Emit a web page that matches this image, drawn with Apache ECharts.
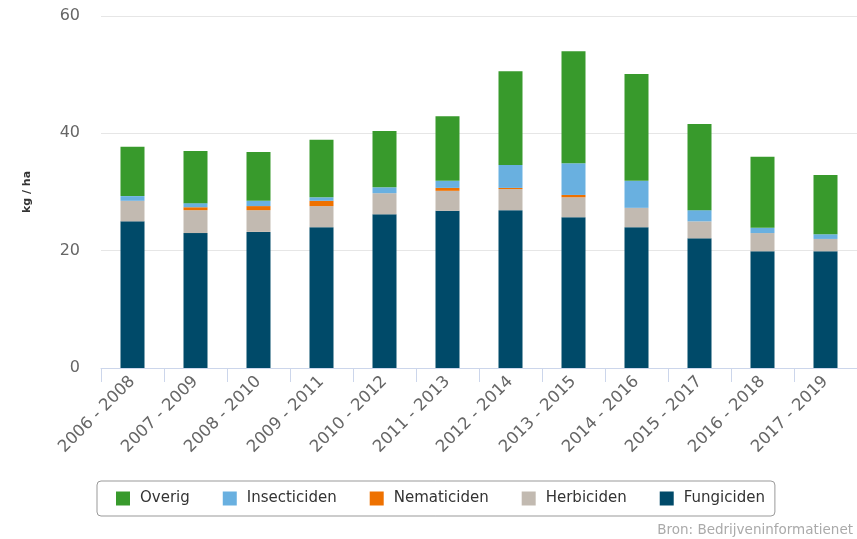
<!DOCTYPE html>
<html>
<head>
<meta charset="utf-8">
<script src="https://cdn.jsdelivr.net/npm/echarts@6/dist/echarts.min.js"></script>
<style>
  html, body { margin: 0; padding: 0; background: #fff; }
  #chart { width: 857px; height: 539px; }
</style>
</head>
<body>
<div id="chart"></div>
<script>
// Categories (3-year averages)
const periods = [
    "2006 - 2008", "2007 - 2009", "2008 - 2010", "2009 - 2011",
    "2010 - 2012", "2011 - 2013", "2012 - 2014", "2013 - 2015",
    "2014 - 2016", "2015 - 2017", "2016 - 2018", "2017 - 2019",
];
// kg active substance per ha
const fungiciden    = [25.0, 23.0, 23.2, 24.0, 26.2, 26.8, 26.9, 25.7, 24.0, 22.1, 19.9, 19.9];
const herbiciden    = [3.5, 3.9, 3.7, 3.6, 3.6, 3.4, 3.6, 3.4, 3.3, 2.9, 3.1, 2.1];
const nematiciden   = [0.0, 0.5, 0.7, 0.9, 0.0, 0.5, 0.2, 0.4, 0.0, 0.0, 0.0, 0.0];
const insecticiden  = [0.8, 0.7, 0.9, 0.6, 1.0, 1.2, 3.9, 5.4, 4.6, 1.9, 0.9, 0.8];
const overig        = [8.4, 8.9, 8.3, 9.8, 9.6, 11.0, 16.0, 19.1, 18.2, 14.7, 12.1, 10.1];
const yTicks = [0, 20, 40, 60];

const chart = echarts.init(document.getElementById("chart"));

const font = "DejaVu Sans";
const mkSeries = (name, data, color) => ({
    name: name,
    type: "bar",
    stack: "total",
    data: data,
    barWidth: 24,
    itemStyle: { color: color },
});

const options = {
    animation: false,
    textStyle: { fontFamily: font },
    grid: { left: 101, right: 0, top: 16, bottom: 171 },
    xAxis: {
        type: "category",
        data: periods,
        axisLine: { lineStyle: { color: "#ccd6eb", width: 1 } },
        axisTick: { show: true, length: 14, lineStyle: { color: "#ccd6eb", width: 1 } },
        axisLabel: {
            rotate: 45,
            color: "#666",
            fontSize: 16.5,
            margin: 11,
            interval: 0,
        },
    },
    yAxis: {
        type: "value",
        min: yTicks[0],
        max: yTicks[yTicks.length - 1],
        interval: 20,
        name: "kg / ha",
        nameLocation: "middle",
        nameRotate: 90,
        nameGap: 68,
        nameTextStyle: { fontWeight: "bold", fontSize: 11, color: "#333" },
        axisLine: { show: false },
        axisTick: { show: false },
        axisLabel: { color: "#666", fontSize: 16, margin: 21 },
        splitLine: { lineStyle: { color: "#e6e6e6" } },
    },
    legend: {
        data: ["Overig", "Insecticiden", "Nematiciden", "Herbiciden", "Fungiciden"],
        left: 97,
        top: 481,
        itemWidth: 14,
        itemHeight: 14,
        itemGap: 33,
        padding: [10, 10, 10, 19],
        borderColor: "#999",
        borderWidth: 1,
        borderRadius: 4,
        icon: "rect",
        textStyle: { fontSize: 15, color: "#333", padding: [0, 0, 0, 5] },
    },
    graphic: [
        {
            type: "text",
            right: 4,
            top: 523,
            style: {
                text: "Bron: Bedrijveninformatienet",
                fill: "#aaa",
                fontSize: 13.5,
                fontFamily: font,
            },
        },
    ],
    series: [
        mkSeries("Fungiciden", fungiciden, "#004a69"),
        mkSeries("Herbiciden", herbiciden, "#c2bab1"),
        mkSeries("Nematiciden", nematiciden, "#ee7100"),
        mkSeries("Insecticiden", insecticiden, "#69b0e0"),
        mkSeries("Overig", overig, "#389a2c"),
    ],
};

chart.setOption(options);
window.addEventListener("resize", () => {
    chart.resize();
});
</script>
</body>
</html>
